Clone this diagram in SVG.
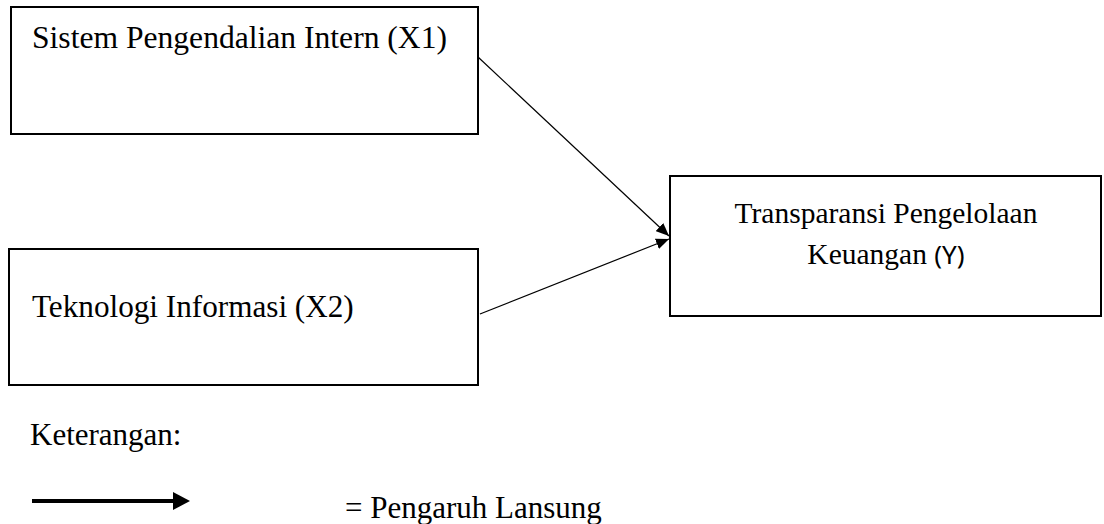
<svg xmlns="http://www.w3.org/2000/svg" width="1104" height="524" viewBox="0 0 1104 524">
<defs>
<style>
.box{fill:#fff;stroke:#000;stroke-width:2}
.t{font-family:"Liberation Serif","Times New Roman",serif;font-size:31px;fill:#000}
.s{font-family:"Noto Sans","Liberation Sans",sans-serif;font-size:26px}
.edge{stroke:#000;stroke-width:1.2;fill:none}
</style>
<marker id="ah" viewBox="0 0 13 11" refX="13" refY="5.5" markerWidth="13" markerHeight="11" markerUnits="userSpaceOnUse" orient="auto">
<path d="M0,0 L13,5.5 L0,11 Z" fill="#000"/>
</marker>
</defs>
<rect width="1104" height="524" fill="#fff"/>
<g id="node-x1">
<rect class="box" x="11" y="7" width="467" height="127"/>
<text class="t" x="32" y="48" style="font-size:31.6px">Sistem Pengendalian Intern (X1)</text>
</g>
<g id="node-x2">
<rect class="box" x="9" y="249" width="469" height="136"/>
<text class="t" x="32" y="317" style="font-size:31.2px">Teknologi Informasi (X2)</text>
</g>
<g id="node-y">
<rect class="box" x="670" y="176" width="431" height="140"/>
<text class="t" x="886" y="223" text-anchor="middle" style="font-size:29.5px">Transparansi Pengelolaan</text>
<text class="t" x="886" y="264" text-anchor="middle" style="font-size:29.5px">Keuangan <tspan class="s">(Y)</tspan></text>
</g>
<g id="connectors">
<line class="edge" x1="478" y1="57" x2="669" y2="236" marker-end="url(#ah)"/>
<line class="edge" x1="480" y1="314" x2="669" y2="239" marker-end="url(#ah)"/>
</g>
<g id="legend">
<text class="t" x="30" y="445">Keterangan:</text>
<line x1="32" y1="501" x2="176" y2="501" stroke="#000" stroke-width="4"/>
<path d="M173,492 L190,501 L173,510 Z" fill="#000"/>
<text class="t" x="345" y="518">= Pengaruh Lansung</text>
</g>
</svg>
